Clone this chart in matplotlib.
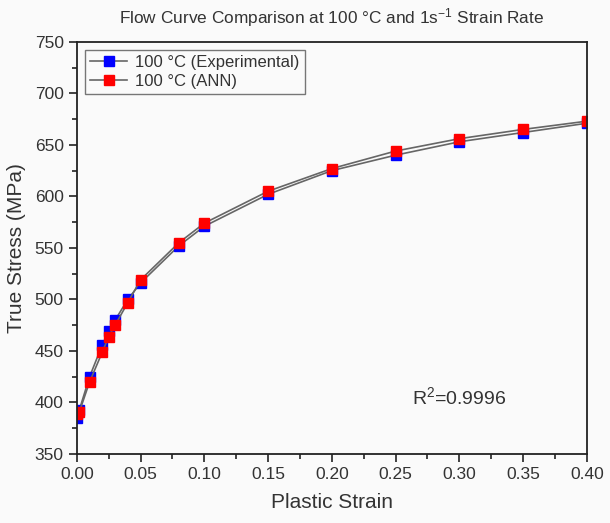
import numpy as np
import matplotlib.pyplot as plt

plt.rcParams['font.family'] = ['Liberation Sans', 'DejaVu Sans']
plt.rcParams['mathtext.fontset'] = 'custom'
plt.rcParams['mathtext.rm'] = 'Liberation Sans'
plt.rcParams['mathtext.default'] = 'regular'

# Plastic strain values
strain = [0.0, 0.002, 0.01, 0.02, 0.025, 0.03, 0.04, 0.05, 0.08, 0.10,
          0.15, 0.20, 0.25, 0.30, 0.35, 0.40]

# True stress (MPa)
stress_exp = [385, 393, 425, 456, 469, 480, 500, 516, 552, 571,
              602, 625, 640, 653, 662, 671]
stress_ann = [389, 391, 420, 449, 464, 475, 497, 519, 555, 574,
              605, 627, 644, 656, 665, 673]

fig = plt.figure(figsize=(6.1, 5.23), dpi=100, facecolor='#fafafa')
ax = fig.add_axes([0.126, 0.132, 0.836, 0.788], facecolor='#fafafa')

ax.plot(strain, stress_exp, color='#666666', lw=1.2, marker='s', ms=7.5,
        mfc='blue', mec='blue', label='100 °C (Experimental)')
ax.plot(strain, stress_ann, color='#666666', lw=1.2, marker='s', ms=7.5,
        mfc='red', mec='red', label='100 °C (ANN)')

ax.set_xlim(0, 0.4)
ax.set_ylim(350, 750)
ax.set_xticks(np.arange(0, 0.401, 0.05))
ax.set_xticks(np.arange(0, 0.401, 0.025), minor=True)
ax.set_yticks(np.arange(350, 751, 50))
ax.set_yticks(np.arange(350, 751, 25), minor=True)
ax.xaxis.set_major_formatter(plt.FormatStrFormatter('%.2f'))
ax.tick_params(which='major', direction='out', length=6, width=1.2,
               labelsize=12.5, colors='#222222', labelcolor='#333333')
ax.tick_params(which='minor', direction='out', length=3.5, width=1.2,
               colors='#222222')
for s in ax.spines.values():
    s.set_linewidth(1.3)
    s.set_color('#222222')

ax.set_xlabel('Plastic Strain', fontsize=15, color='#333333', labelpad=8)
ax.set_ylabel('True Stress (MPa)', fontsize=15, color='#333333', labelpad=6)
ax.set_title('Flow Curve Comparison at 100 °C and 1s$^{-1}$ Strain Rate',
             fontsize=12.4, color='#333333', pad=13)

ax.text(0.263, 398, 'R$^2$=0.9996', fontsize=14, color='#333333')

leg = ax.legend(loc='upper left', fontsize=12, frameon=True, fancybox=False,
                borderaxespad=0.5, handlelength=2.2, labelspacing=0.2,
                borderpad=0.3, handletextpad=0.5, labelcolor='#333333')
leg.get_frame().set_edgecolor('#555555')
leg.get_frame().set_linewidth(1.0)
leg.get_frame().set_facecolor('#fafafa')

fig.savefig('out.png', dpi=100, facecolor=fig.get_facecolor())
